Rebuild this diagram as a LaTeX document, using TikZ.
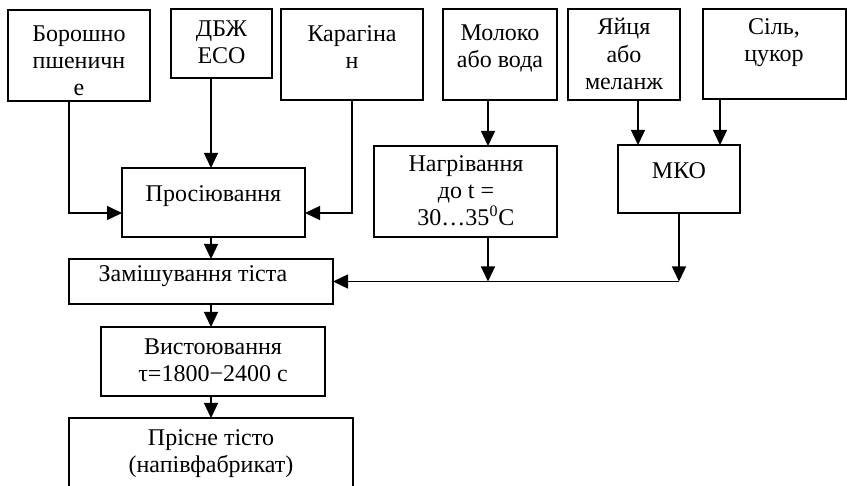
\documentclass[tikz,border=0pt]{standalone}
\usepackage{fontspec}
\setmainfont{Liberation Serif}
\usetikzlibrary{arrows.meta}
\begin{document}
\begin{tikzpicture}[x=0.5pt,y=-0.5pt,
  box/.style={draw,line width=0.7pt,rectangle,inner sep=0pt,outer sep=0pt,anchor=north west},
  txt/.style={anchor=north,align=center,inner sep=0pt,font=\fontsize{12}{13.6}\selectfont},
  arr/.style={line width=0.7pt,-{Triangle[length=7.5pt,width=7pt]}},
  ln/.style={line width=0.7pt}]
\useasboundingbox (0,0) rectangle (847,486);
\clip (0,0) rectangle (847,486);
% boxes
\node[box,minimum width=71pt,minimum height=45.5pt] (b1) at (8,10) {};
\node[box,minimum width=50.5pt,minimum height=34.5pt] (b2) at (171,9) {};
\node[box,minimum width=71pt,minimum height=45.5pt] (b3) at (281,9) {};
\node[box,minimum width=57pt,minimum height=45.5pt] (b4) at (443,9) {};
\node[box,minimum width=56pt,minimum height=45.5pt] (b5) at (568,9) {};
\node[box,minimum width=71.5pt,minimum height=45pt] (b6) at (703,9) {};
\node[box,minimum width=91.5pt,minimum height=34.5pt] (p) at (122,168) {};
\node[box,minimum width=91.5pt,minimum height=45.5pt] (n) at (374,146) {};
\node[box,minimum width=61pt,minimum height=34pt] (m) at (618,145) {};
\node[box,minimum width=132pt,minimum height=22.5pt] (z) at (69,259) {};
\node[box,minimum width=112pt,minimum height=34.5pt] (v) at (101,327) {};
\node[box,minimum width=142pt,minimum height=40pt] (r) at (69,418) {};
% texts
\node[txt] (t1) at (79,25) {Борошно\\пшеничн\\е};
\node[txt] (t2) at (221.5,20) {ДБЖ\\ЕСО};
\node[txt] (t3) at (352,25) {Карагіна\\н};
\node[txt] (t4) at (500,24) {Молоко\\або вода};
\node[txt] (t5) at (624,18) {Яйця\\або\\меланж};
\node[txt] (t6) at (774,18) {Сіль,\\цукор};
\node[txt] (tp) at (213.5,185) {Просіювання};
\node[txt] (tn) at (466,155) {Нагрівання\\до t =\\30…35\textsuperscript{0}C};
\node[txt] (tm) at (679,162) {МКО};
\node[txt] (tz) at (193,265) {Замішування тіста};
\node[txt] (tv) at (213,338) {Вистоювання\\τ=1800−2400 с};
\node[txt] (tr) at (211,429) {Прісне тісто\\(напівфабрикат)};
% connectors
\draw[arr] (b1.south -| z.west) |- ([yshift=-5.25pt]p.west);
\draw[arr] (b2.south -| r.north) -- (p.north -| r.north);
\draw[arr] (b3.south) |- ([yshift=-5.25pt]p.east);
\draw[arr] (p.south -| r.north) -- (z.north -| r.north);
\draw[arr] ([xshift=-6pt]b4.south) -- ([xshift=-6pt]b4.south |- n.north);
\draw[arr] ([xshift=7pt]b5.south) -- ([xshift=7pt]b5.south |- m.north);
\draw[arr] ([xshift=-27.25pt]b6.south) -- ([xshift=-27.25pt]b6.south |- m.north);
\draw[arr] (m.south) -- (m.south |- z.east);
\draw[arr] ([xshift=-6pt]b4.south |- n.south) -- ([xshift=-6pt]b4.south |- z.east);
\draw[arr] (m.south |- z.east) -- (z.east);
\draw[arr] (z.south -| r.north) -- (v.north -| r.north);
\draw[arr] (v.south -| r.north) -- (r.north);
\end{tikzpicture}
\end{document}
